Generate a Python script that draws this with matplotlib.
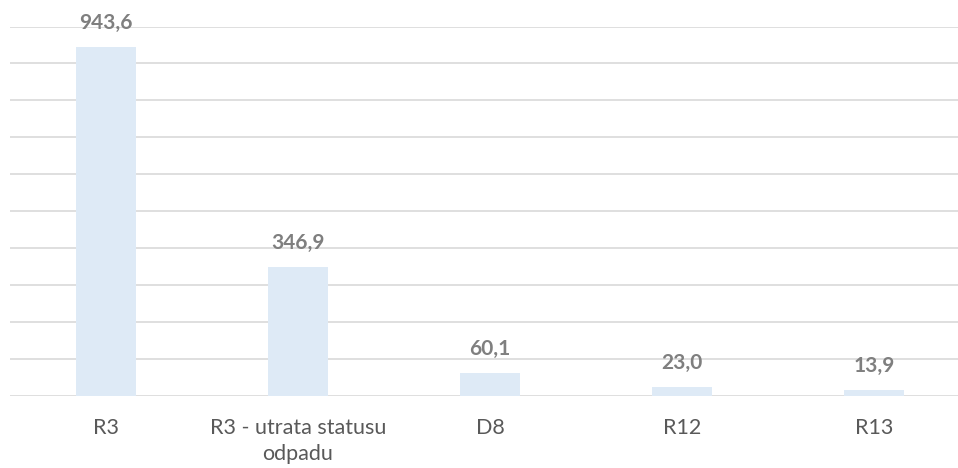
import matplotlib
matplotlib.use("Agg")
import matplotlib.pyplot as plt

categories = ["R3", "R3 - utrata statusu\nodpadu", "D8", "R12", "R13"]
values = [943.6, 346.9, 60.1, 23.0, 13.9]
value_labels = ["943,6", "346,9", "60,1", "23,0", "13,9"]

BAR_COL = "#DEEAF6"
GRID_COL = "#D9D9D9"
TEXT_COL = "#595959"
LABEL_COL = "#7F7F7F"

plt.rcParams["font.family"] = ["Lato", "DejaVu Sans"]

fig = plt.figure(figsize=(9.58, 4.68), dpi=100)
# axis runs a little past the right edge of the canvas
ax = fig.add_axes([10 / 958, 1 - 395.5 / 468, 960 / 958, 369 / 468])

x = range(len(categories))
ax.bar(x, values, width=0.3125, color=BAR_COL, zorder=2)
ax.set_xlim(-0.5, len(categories) - 0.5)
ax.set_ylim(0, 1000)
ax.set_yticks(range(0, 1001, 100))
ax.yaxis.grid(True, color=GRID_COL, linewidth=1.2, zorder=0)
ax.tick_params(axis="y", left=False, labelleft=False)
ax.tick_params(axis="x", length=0, pad=16, labelsize=15.5, colors=TEXT_COL)
ax.set_xticks(list(x))
ax.set_xticklabels(categories, linespacing=1.4)
for s in ax.spines.values():
    s.set_visible(False)

for xi, v, lab in zip(x, values, value_labels):
    ax.annotate(lab, (xi, v), xytext=(0, 13), textcoords="offset points",
                ha="center", va="baseline", fontsize=15, fontweight="bold",
                color=LABEL_COL)

fig.savefig("out.png", dpi=100, facecolor="white")
